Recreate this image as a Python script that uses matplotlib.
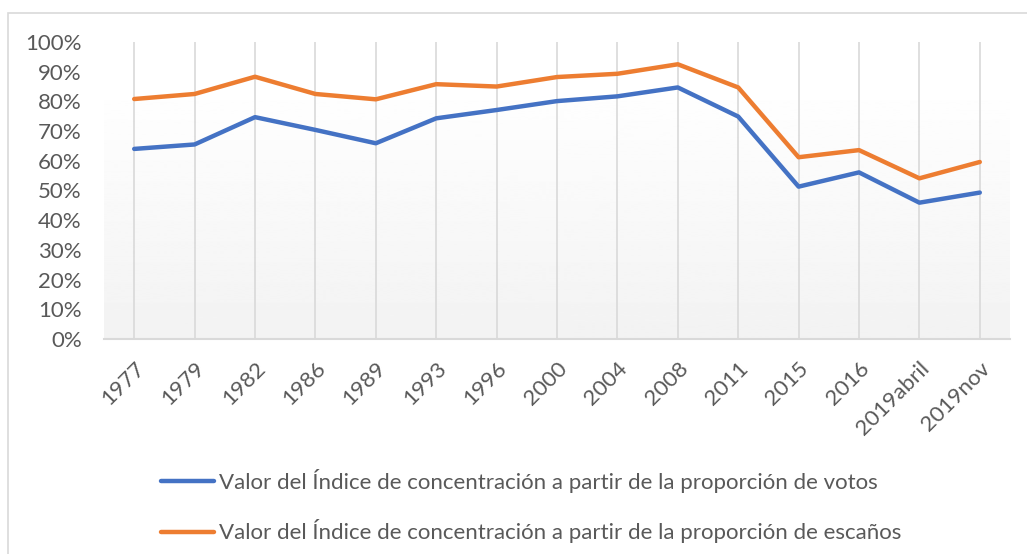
import numpy as np
import matplotlib.pyplot as plt
from matplotlib.patches import Rectangle

# election years (categories)
years = ['1977', '1979', '1982', '1986', '1989', '1993', '1996', '2000', '2004',
         '2008', '2011', '2015', '2016', '2019abril', '2019nov']
# concentration index
votos = [0.640, 0.655, 0.747, 0.704, 0.659, 0.743, 0.771, 0.801, 0.817,
         0.847, 0.749, 0.513, 0.561, 0.459, 0.493]
escanos = [0.808, 0.825, 0.883, 0.825, 0.807, 0.858, 0.850, 0.882, 0.893,
           0.925, 0.847, 0.612, 0.636, 0.541, 0.596]
yticks = [0, 0.1, 0.2, 0.3, 0.4, 0.5, 0.6, 0.7, 0.8, 0.9, 1.0]

plt.rcParams['font.family'] = ['Lato', 'DejaVu Sans']
W, H = 1027, 554
fig = plt.figure(figsize=(W / 100, H / 100), dpi=100)

# chart border (goes off the right/bottom edge)
fig.patches.append(Rectangle((8 / W, -0.1), 1.2, 1 - 13 / H + 0.1, transform=fig.transFigure,
                             fill=False, edgecolor='#d9d9d9', lw=1.2))

ax = fig.add_axes([104 / W, 1 - 339 / H, (1010 - 104) / W, (339 - 42) / H])
x = np.arange(len(years))
ax.set_xlim(-0.5, len(years) - 0.5)
ax.set_ylim(0, 1.0)

# gradient plot-area fill
grad = np.linspace(0.95, 1.0, 256).reshape(-1, 1)
ax.imshow(grad, extent=(-0.5, len(years) - 0.5, 0, 0.869), cmap='gray', vmin=0, vmax=1,
          aspect='auto', origin='lower', zorder=0)

for xi in x:
    ax.axvline(xi, color='#d9d9d9', lw=1.2, zorder=1)

l1, = ax.plot(x, votos, color='#4472C4', lw=3.2, solid_capstyle='round', zorder=3,
              label='Valor del Índice de concentración a partir de la proporción de votos')
l2, = ax.plot(x, escanos, color='#ED7D31', lw=3.2, solid_capstyle='round', zorder=3,
              label='Valor del Índice de concentración a partir de la proporción de escaños')

for s in ['top', 'right', 'left']:
    ax.spines[s].set_visible(False)
ax.spines['bottom'].set_color('#d9d9d9')
ax.spines['bottom'].set_linewidth(1.5)

ax.set_yticks(yticks)
ax.set_yticklabels(['%d%%' % round(v * 100) for v in yticks])
ax.set_xticks(x)
ax.set_xticklabels(years, rotation=45, ha='right', va='top', rotation_mode='anchor')
ax.tick_params(axis='both', length=0, colors='#595959', labelsize=16)
ax.tick_params(axis='y', pad=16)
ax.tick_params(axis='x', pad=14)

fig.legend(handles=[l1, l2], loc='center left', bbox_to_anchor=(141 / W, 1 - 506 / H),
           frameon=False, fontsize=16, labelcolor='#595959', handlelength=2.4,
           handletextpad=0.2, labelspacing=1.2)

fig.savefig('out.png', dpi=100)
